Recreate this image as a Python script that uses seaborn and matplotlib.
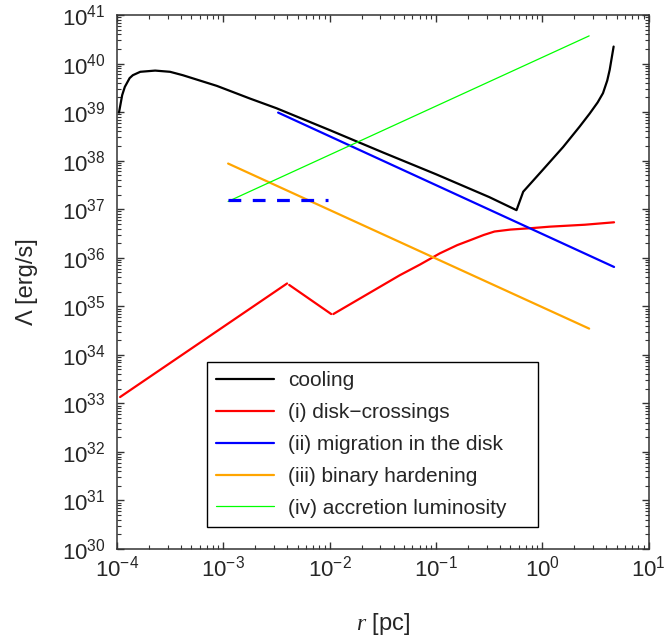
import numpy as np
import matplotlib
matplotlib.use("Agg")
import matplotlib.pyplot as plt
import matplotlib.ticker as mticker
import seaborn as sns

# values, as log10(r [pc]) and log10(Lambda [erg/s])
cool_logr = [-3.98, -3.95, -3.925, -3.88, -3.85, -3.78, -3.64, -3.50, -3.38, -3.06,
             -2.75, -2.50, -2.0, -1.5, -1.0, -0.5, -0.243, -0.18, 0.0, 0.195,
             0.35, 0.445, 0.52, 0.57, 0.61, 0.633, 0.67]
cool_logL = [38.99, 39.35, 39.52, 39.70, 39.76, 39.83, 39.855, 39.83, 39.76, 39.54,
             39.28, 39.08, 38.63, 38.17, 37.72, 37.25, 36.98, 37.36, 37.80, 38.28,
             38.70, 38.97, 39.20, 39.39, 39.65, 39.87, 40.35]

disk_logr_1 = [-3.97, -2.40]
disk_logL_1 = [33.13, 35.47]
disk_logr_2 = [-2.38, -1.985]
disk_logL_2 = [35.44, 34.84]
disk_logr_3 = [-1.965, -1.34, -1.15, -0.964, -0.80, -0.68, -0.55, -0.45, -0.30, -0.10, 0.07, 0.40, 0.674]
disk_logL_3 = [34.84, 35.64, 35.86, 36.09, 36.26, 36.36, 36.47, 36.54, 36.58, 36.61, 36.64, 36.68, 36.73]

mig_logr = [-2.484, 0.674]
mig_logL = [38.99, 35.81]
mig_dash_logr = [-2.954, -2.014]
mig_dash_logL = [37.19, 37.19]

bin_logr = [-2.954, 0.44]
bin_logL = [37.94, 34.54]

acc_logr = [-2.954, 0.44]
acc_logL = [37.16, 40.57]

labels = ["cooling", "(i) disk\u2212crossings", "(ii) migration in the disk",
          "(iii) binary hardening", "(iv) accretion luminosity"]
colors = ["black", "#ff0000", "#0000ff", "#ffa500", "#00ff00"]

sns.set_style("ticks")
plt.rcParams["font.family"] = ["Liberation Sans", "DejaVu Sans"]
plt.rcParams["mathtext.fontset"] = "custom"
plt.rcParams["mathtext.rm"] = "Liberation Sans"
plt.rcParams["mathtext.it"] = "Liberation Serif:italic"

fig = plt.figure(figsize=(6.64, 6.44), dpi=100)
ax = fig.add_axes([0.176, 0.1475, 0.801, 0.8292])


def p(v):
    return np.power(10.0, np.array(v))


sns.lineplot(x=p(cool_logr), y=p(cool_logL), color=colors[0], lw=1.6, label=labels[0],
             sort=False, estimator=None, ax=ax)
sns.lineplot(x=p(disk_logr_1), y=p(disk_logL_1), color=colors[1], lw=1.6, label=labels[1],
             sort=False, estimator=None, ax=ax)
sns.lineplot(x=p(disk_logr_2), y=p(disk_logL_2), color=colors[1], lw=1.6,
             sort=False, estimator=None, ax=ax)
sns.lineplot(x=p(disk_logr_3), y=p(disk_logL_3), color=colors[1], lw=1.6,
             sort=False, estimator=None, ax=ax)
sns.lineplot(x=p(mig_logr), y=p(mig_logL), color=colors[2], lw=1.6, label=labels[2],
             sort=False, estimator=None, ax=ax)
sns.lineplot(x=p(bin_logr), y=p(bin_logL), color=colors[3], lw=1.6, label=labels[3],
             sort=False, estimator=None, ax=ax)
sns.lineplot(x=p(acc_logr), y=p(acc_logL), color=colors[4], lw=0.9, label=labels[4],
             sort=False, estimator=None, ax=ax)
sns.lineplot(x=p(mig_dash_logr), y=p(mig_dash_logL), color=colors[2], lw=2.3,
             sort=False, estimator=None, ax=ax).lines[-1].set_dashes((4, 3.6))

ax.set_xscale("log")
ax.set_yscale("log")
ax.set_xlim(1e-4, 1e1)
ax.set_ylim(1e30, 1e41)

ax.xaxis.set_major_locator(mticker.LogLocator(base=10, numticks=20))
ax.yaxis.set_major_locator(mticker.LogLocator(base=10, numticks=20))
ax.xaxis.set_minor_locator(mticker.LogLocator(base=10, subs=np.arange(2, 10), numticks=100))
ax.yaxis.set_minor_locator(mticker.LogLocator(base=10, subs=np.arange(2, 10), numticks=100))
ax.xaxis.set_minor_formatter(mticker.NullFormatter())
ax.yaxis.set_minor_formatter(mticker.NullFormatter())

for s in ax.spines.values():
    s.set_linewidth(1.1)
    s.set_color("#333333")
ax.tick_params(which="both", direction="in", top=True, right=True, color="#333333")
ax.tick_params(which="major", length=5, width=1.0, labelsize=16)
ax.tick_params(which="minor", length=3, width=0.8)
ax.tick_params(axis="x", which="major", pad=5)
ax.tick_params(axis="y", which="major", pad=8)

ax.set_xlabel("$r$ [pc]", fontsize=17, labelpad=21)
ax.set_ylabel("\u039b [erg/s]", fontsize=17, labelpad=17)

leg = ax.legend(loc="lower left", bbox_to_anchor=(0.169, 0.041, 0.622, 0.307), mode="expand",
                borderaxespad=0, fontsize=15, frameon=True, fancybox=False, edgecolor="black",
                handlelength=2.8, handletextpad=0.65, labelspacing=0.62, borderpad=0.45)
leg.get_frame().set_linewidth(1.0)
leg.get_frame().set_alpha(1)

fig.savefig("out.png", dpi=100)
